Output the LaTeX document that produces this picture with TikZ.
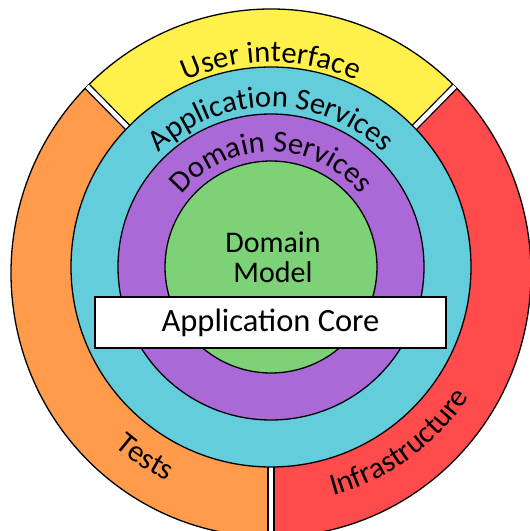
\documentclass[tikz,border=0pt]{standalone}
\usepackage{fontspec}
\setmainfont{Carlito}
\usepackage{tikz}
\usetikzlibrary{decorations.text}
\definecolor{uiyellow}{RGB}{255,240,75}
\definecolor{tsorange}{RGB}{255,155,75}
\definecolor{infred}{RGB}{255,75,75}
\definecolor{appcyan}{RGB}{100,205,220}
\definecolor{dompurple}{RGB}{170,105,215}
\definecolor{modgreen}{RGB}{125,210,120}
\newcommand{\bendfont}{\fontsize{30.5}{30.5}\selectfont}
\tikzset{
	ring/.style={draw=black, line width=1.3pt},
	gap/.style={line width=1.3pt, double=white, double distance=4.5pt},
	arctext/.style={decorate, decoration={text along path, text align=center, text={|\bendfont|#1}}},
}

\begin{document}
\begin{tikzpicture}[x=1pt, y=1pt]
	\useasboundingbox (0,0) rectangle (530,531);
	\coordinate (c) at (271,264);
	\coordinate (o) at (271,258);

	% outer ring
	\begin{scope}[shift={(o)}]
		\filldraw [ring, fill=uiyellow] (0,0) -- (45:260 and 264) arc[start angle=45, end angle=135, x radius=260, y radius=264] -- cycle;
		\filldraw [ring, fill=tsorange] (0,0) -- (135:260 and 264) arc[start angle=135, end angle=270, x radius=260, y radius=264] -- cycle;
		\filldraw [ring, fill=infred] (0,0) -- (-90:260 and 264) arc[start angle=-90, end angle=45, x radius=260, y radius=264] -- cycle;
		\foreach \a in {45,135,270}
			\draw [gap] (0,0) -- (\a:260 and 264);
	\end{scope}

	% core rings
	\filldraw [ring, fill=appcyan] (c) circle[radius=200];
	\filldraw [ring, fill=dompurple] (c) circle[radius=153];
	\filldraw [ring, fill=modgreen] (c) circle[radius=106];

	\node [ring, fill=white, minimum width=351pt, minimum height=51pt, inner sep=0pt, font=\fontsize{32.5}{32.5}\selectfont] (core) at (270.5,208.5) {Application Core};
	\node [font=\fontsize{30}{30}\selectfont, align=center] (model) at (273,274) {Domain\\Model};

	% labels on the rings
	\path [arctext=User interface] (c) ++(170:205) arc[start angle=170, end angle=10, radius=205];
	\path [arctext=Application Services] (c) ++(175:160) arc[start angle=175, end angle=5, radius=160];
	\path [arctext=Domain Services] (c) ++(178:115) arc[start angle=178, end angle=2, radius=115];
	\path [arctext=Tests] (c) ++(200:238) arc[start angle=200, end angle=273, radius=238];
	\path [arctext=Infrastructure] (c) ++(-100:237) arc[start angle=-100, end angle=-8, radius=237];
\end{tikzpicture}
\end{document}
